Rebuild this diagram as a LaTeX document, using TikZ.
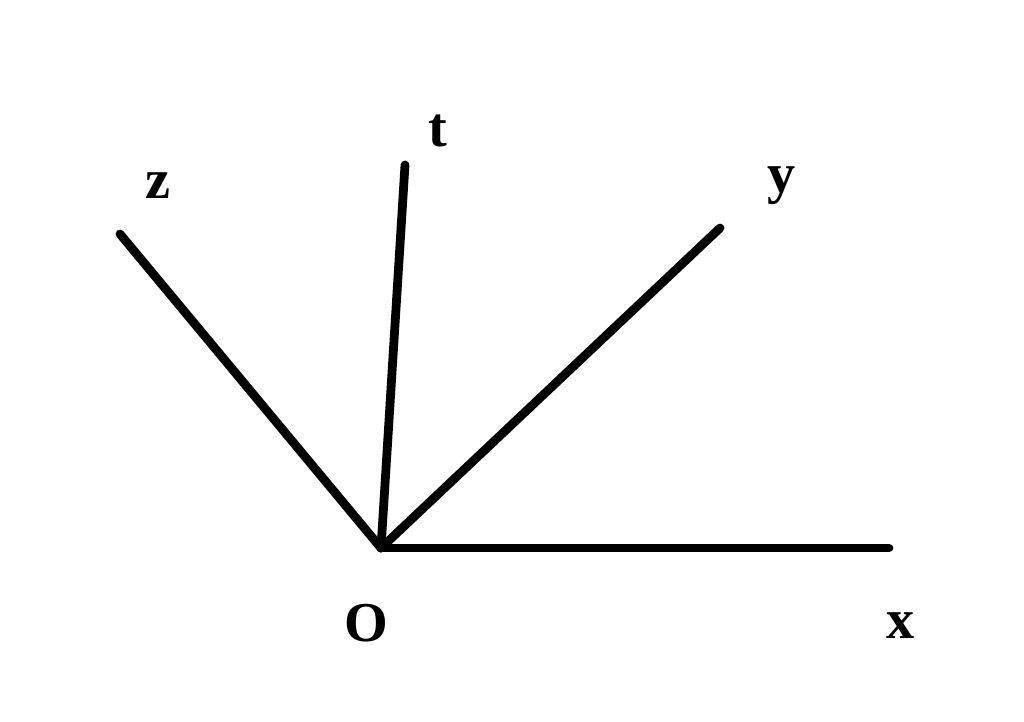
\documentclass[tikz,border=0pt]{standalone}
\usepackage{fontspec}
\setmainfont{Liberation Serif}
\begin{document}
\begin{tikzpicture}[x=0.02cm,y=-0.02cm,
  axis/.style={line width=5pt,line cap=round,black},
  lab/.style={font=\fontsize{32}{36}\selectfont\bfseries,inner sep=0pt}]
\useasboundingbox (0,0) rectangle (1024,721);
\coordinate (O) at (381,548);
\coordinate (X) at (889,548);
\coordinate (Y) at (720,228);
\coordinate (T) at (405,165);
\coordinate (Z) at (120,234);
\draw[axis] (O) -- (X);
\draw[axis] (O) -- (Y);
\draw[axis] (O) -- (T);
\draw[axis] (O) -- (Z);
\node[lab] (lz) at (158,186) {z};
\node[lab] (lt) at (438,131) {t};
\node[lab] (ly) at (782,186) {y};
\node[lab] (lO) at (366,623) {O};
\node[lab] (lx) at (901,626) {x};
\end{tikzpicture}
\end{document}
